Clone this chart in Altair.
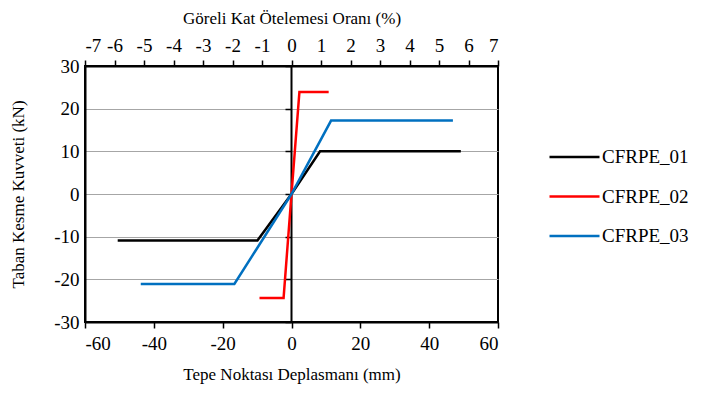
import altair as alt
import pandas as pd

series = ["CFRPE_01", "CFRPE_02", "CFRPE_03"]
colors = ["#000000", "#FF0000", "#0070C0"]

s1_x = [-50.5, -9.9, 0.0, 8.3, 49.2]
s1_y = [-10.9, -10.9, 0.0, 10.0, 10.0]
s2_x = [-9.3, -2.3, 0.0, 2.3, 10.8]
s2_y = [-24.4, -24.4, 0.0, 23.9, 23.9]
s3_x = [-43.8, -16.6, 0.0, 11.5, 46.9]
s3_y = [-21.1, -21.1, 0.0, 17.2, 17.2]

x_ticks = [-60, -40, -20, 0, 20, 40, 60]
y_ticks = [-30, -20, -10, 0, 10, 20, 30]
pct_ticks = [-7, -6, -5, -4, -3, -2, -1, 0, 1, 2, 3, 4, 5, 6, 7]

rows = []
for name, xs, ys in zip(series, [s1_x, s2_x, s3_x], [s1_y, s2_y, s3_y]):
    for i, (xv, yv) in enumerate(zip(xs, ys)):
        rows.append({"series": name, "x": xv, "y": yv, "order": i})
df = pd.DataFrame(rows)

font = "Liberation Serif"
LBL = "'' + datum.value"
LFS = 19
TFS = 17
xs = alt.Scale(domain=[-60, 60], nice=False, zero=False)
ys = alt.Scale(domain=[-30, 30], nice=False, zero=False)

lines = alt.Chart(df).mark_line(strokeWidth=2.5, clip=True).encode(
    x=alt.X("x:Q", scale=xs, axis=alt.Axis(
        values=x_ticks, title="Tepe Noktası Deplasmanı (mm)", orient="bottom",
        grid=False, domainColor="black", domainWidth=2, tickColor="black",
        tickWidth=1.5, tickSize=6, labelFontSize=LFS, titleFontSize=TFS,
        labelPadding=6, titlePadding=13, labelFont=font, titleFont=font,
        labelExpr=LBL, labelColor="black", titleColor="black",
        titleFontWeight="normal")),
    y=alt.Y("y:Q", scale=ys, axis=alt.Axis(
        values=y_ticks, title="Taban Kesme Kuvveti (kN)", orient="left",
        grid=True, gridColor="#A6A6A6", gridWidth=1, ticks=False,
        domainColor="black", domainWidth=2, labelFontSize=LFS, titleFontSize=TFS,
        labelPadding=6, titlePadding=26, labelFont=font, titleFont=font,
        labelExpr=LBL, labelColor="black", titleColor="black",
        titleFontWeight="normal")),
    color=alt.Color("series:N", scale=alt.Scale(domain=series, range=colors),
                    legend=alt.Legend(
                        title=None, orient="none", legendX=463, legendY=81,
                        symbolType="stroke", symbolSize=2500, symbolStrokeWidth=2.5,
                        labelFontSize=LFS, labelFont=font, labelColor="black",
                        labelOffset=1, clipHeight=20, rowPadding=19.5, padding=0)),
    order="order:Q",
)

zero_df = pd.DataFrame({"y": y_ticks})
zero_axis = alt.Chart(zero_df).mark_point(opacity=0).encode(
    y=alt.Y("y:Q", scale=ys, axis=alt.Axis(
        values=y_ticks, title=None, labels=False, grid=False, orient="left",
        offset=-206, domainColor="black", domainWidth=2, tickColor="black",
        tickWidth=1.5, tickSize=6)),
)

top_df = pd.DataFrame({"p": pct_ticks})
top_axis = alt.Chart(top_df).mark_point(opacity=0).encode(
    x=alt.X("p:Q", scale=alt.Scale(domain=[-7, 7], nice=False, zero=False),
            axis=alt.Axis(
                values=pct_ticks, title="Göreli Kat Ötelemesi Oranı (%)", orient="top",
                grid=False, domainColor="black", domainWidth=2, tickColor="black",
                tickWidth=1.5, tickSize=6, labelFontSize=LFS, titleFontSize=TFS,
                labelPadding=5, titlePadding=9, labelFont=font, titleFont=font,
                labelExpr=LBL, labelColor="black", titleColor="black",
                titleFontWeight="normal")),
)

chart = alt.layer(lines, zero_axis, top_axis).resolve_scale(
    x="independent"
).resolve_axis(y="independent").properties(
    width=413, height=256,
    autosize=alt.AutoSizeParams(type="none"),
    padding={"left": 77, "top": 58, "right": 198, "bottom": 63},
).configure(font=font).configure_axis(
    labelFont=font, titleFont=font
).configure_legend(labelFont=font).configure_view(stroke="black", strokeWidth=2)

chart.save("out.html", embed_options={"renderer": "svg", "actions": False})
